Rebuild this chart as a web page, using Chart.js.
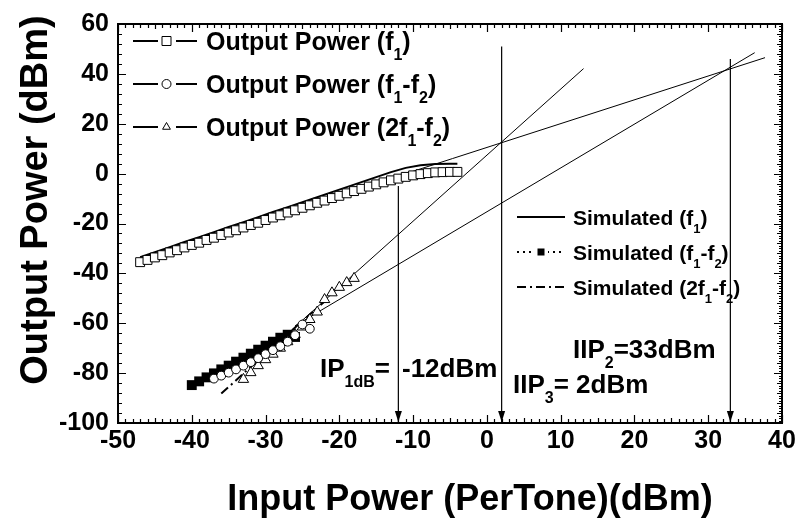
<!DOCTYPE html>
<html>
<head>
<meta charset="utf-8">
<title>Output Power vs Input Power</title>
<script src="https://cdn.jsdelivr.net/npm/chart.js@4.4.1/dist/chart.umd.min.js"></script>
<style>
  html, body { margin: 0; padding: 0; background: #fff; }
  #wrap { width: 799px; height: 521px; }
</style>
</head>
<body>
<div id="wrap"><canvas id="powerChart" width="799" height="521"></canvas></div>
<script>
// Measured output power at the fundamental tone (f1), dBm
const f1InX = [-47, -46, -45, -44, -43, -42, -41, -40, -39, -38, -37, -36, -35, -34, -33, -32, -31, -30, -29, -28, -27, -26,
  -25, -24, -23, -22, -21, -20, -19, -18, -17, -16, -15, -14, -13, -12, -11, -10, -9, -8, -7, -6, -5, -4];
const f1OutY = [-35.5, -34.6, -33.6, -32.7, -31.6, -30.7, -29.6, -28.6, -27.7, -26.6, -25.7, -24.6, -23.6, -22.7, -21.6,
  -20.6, -19.7, -18.6, -17.6, -16.7, -15.6, -14.7, -13.7, -12.7, -11.7, -10.8, -9.8, -8.9, -7.9, -7.0, -6.1, -5.2, -4.3,
  -3.5, -2.7, -2.0, -1.3, -0.7, -0.2, 0.2, 0.5, 0.6, 0.7, 0.7];

// Simulated fundamental
const simF1X = [-47, -45, -43, -41, -39, -37, -35, -33, -31, -29, -27, -25, -23, -21, -19, -17, -15, -13, -11, -9, -7, -5, -4];
const simF1Y = [-33.5, -31.5, -29.5, -27.4, -25.5, -23.5, -21.4, -19.5, -17.5, -15.4, -13.5, -11.5, -9.5, -7.4, -5.4,
  -3.4, -1.4, 0.6, 2.3, 3.4, 3.9, 4.0, 4.0];

// Measured second-order product (f1-f2)
const imd2InX = [-37, -36, -35, -34, -33, -32, -31, -30, -29, -28, -27, -26, -25, -24];
const imd2OutY = [-82.2, -81.0, -79.8, -78.5, -77.0, -75.6, -74.0, -72.4, -70.8, -69.2, -67.4, -64.8, -60.5, -62.2];

// Simulated second-order product
const simImd2X = [-40, -39, -38, -37, -36, -35, -34, -33, -32, -31, -30, -29, -28, -27, -26];
const simImd2Y = [-84.8, -83.3, -81.7, -80.1, -78.5, -77.0, -75.4, -73.8, -72.2, -70.6, -69.0, -67.4, -65.8, -64.6, -65.5];

// Measured third-order product (2f1-f2)
const imd3InX = [-33, -32, -31, -30, -29, -28, -27, -26, -25, -24, -23, -22, -21, -20, -19, -18];
const imd3OutY = [-82.5, -79.8, -77.0, -74.6, -72.4, -70.0, -67.4, -64.5, -61.5, -58.5, -55.5, -50.5, -47.8, -45.6, -43.7, -42.0];

// Simulated third-order product
const simImd3X = [-36, -34, -32, -30, -28, -26, -24, -22];
const simImd3Y = [-88.2, -82.9, -77.4, -72.2, -66.8, -61.7, -56.5, -51.3];

// Extrapolated small-signal lines used to find the intercept points
const fitF1X = [-47, 37.7];
const fitF1Y = [-34.4, 46.5];
const fitImd3X = [-25, 13.1];
const fitImd3Y = [-58.8, 42.1];
const fitImd2X = [-26, 36.3];
const fitImd2Y = [-61, 48.5];

// Drop lines for P1dB, IIP3 and IIP2 (input dBm, top of line in output dBm)
const arrowX = [-12, 2, 33];
const arrowTopY = [-5, 51, 46];

// Axis ranges and tick steps
const xRange = [-50, 40];
const yRange = [-100, 60];
const xStep = 10;
const yStep = 20;

const FONT = '"Liberation Sans", Arial, Helvetica, sans-serif';

function pts(xs, ys) {
  return xs.map((x, i) => ({ x: x, y: ys[i] }));
}

function setFont(ctx, size) {
  ctx.font = 'bold ' + size + 'px ' + FONT;
}

// Draws text pieces left to right, pieces starting with '_' are subscripts
function drawRich(ctx, x, y, parts, size) {
  const subSize = Math.round(size * 0.62);
  let cx = x;
  parts.forEach(p => {
    const sub = p.charAt(0) === '_';
    const text = sub ? p.slice(1) : p;
    setFont(ctx, sub ? subSize : size);
    ctx.fillText(text, cx, sub ? y + Math.round(size * 0.38) : y);
    cx += ctx.measureText(text).width;
  });
  return cx;
}

function drawMarker(ctx, kind, x, y, r, filled) {
  ctx.beginPath();
  if (kind === 'square') {
    ctx.rect(x - r, y - r, 2 * r, 2 * r);
  } else if (kind === 'circle') {
    ctx.arc(x, y, r, 0, Math.PI * 2);
  } else if (kind === 'triangle') {
    ctx.moveTo(x, y - r);
    ctx.lineTo(x + r * 0.87, y + r * 0.5);
    ctx.lineTo(x - r * 0.87, y + r * 0.5);
    ctx.closePath();
  }
  ctx.fillStyle = filled ? '#000' : '#fff';
  ctx.fill();
  ctx.stroke();
}

const measuredKeys = [
  { parts: ['Output Power (f', '_1', ')'], marker: 'square' },
  { parts: ['Output Power (f', '_1', '-f', '_2', ')'], marker: 'circle' },
  { parts: ['Output Power (2f', '_1', '-f', '_2', ')'], marker: 'triangle' }
];

const simulatedKeys = [
  { parts: ['Simulated (f', '_1', ')'], dash: [] },
  { parts: ['Simulated (f', '_1', '-f', '_2', ')'], dash: [2, 4], marker: true },
  { parts: ['Simulated (2f', '_1', '-f', '_2', ')'], dash: [9, 4, 2, 4] }
];

// Box frame with inward tick marks on all four sides
const axisFramePlugin = {
  id: 'axisFrame',
  afterDatasetsDraw(chart) {
    const { ctx, chartArea: a, scales: { x, y } } = chart;
    ctx.save();
    ctx.strokeStyle = '#000';
    ctx.lineWidth = 1.2;
    ctx.beginPath();
    for (let v = x.min; v <= x.max; v++) {
      const px = Math.round(x.getPixelForValue(v)) + 0.5;
      const len = v % 10 === 0 ? 8 : (v % 5 === 0 ? 5 : 4);
      ctx.moveTo(px, a.bottom);
      ctx.lineTo(px, a.bottom - len);
      ctx.moveTo(px, a.top);
      ctx.lineTo(px, a.top + len);
    }
    for (let v = y.min; v <= y.max; v += 4) {
      const py = Math.round(y.getPixelForValue(v)) + 0.5;
      const len = v % 20 === 0 ? 8 : 4;
      ctx.moveTo(a.left, py);
      ctx.lineTo(a.left + len, py);
    }
    for (let v = y.min; v <= y.max; v++) {
      const py = Math.round(y.getPixelForValue(v)) + 0.5;
      const len = v % 20 === 0 ? 8 : (v % 4 === 0 ? 5 : 3);
      ctx.moveTo(a.right, py);
      ctx.lineTo(a.right - len, py);
    }
    ctx.stroke();
    ctx.lineWidth = 2;
    ctx.strokeRect(a.left, a.top, a.right - a.left, a.bottom - a.top);
    ctx.restore();
  }
};

// Arrow heads, legends, intercept labels and axis titles
const notesPlugin = {
  id: 'notes',
  afterDraw(chart) {
    const { ctx, chartArea: a, scales: { x } } = chart;
    ctx.save();
    ctx.fillStyle = '#000';
    ctx.strokeStyle = '#000';

    // arrow heads on the drop lines
    arrowX.forEach(v => {
      const px = x.getPixelForValue(v);
      ctx.beginPath();
      ctx.moveTo(px, a.bottom - 1);
      ctx.lineTo(px - 3.5, a.bottom - 12);
      ctx.lineTo(px + 3.5, a.bottom - 12);
      ctx.closePath();
      ctx.fill();
    });

    // measured legend, top left
    ctx.textAlign = 'left';
    ctx.textBaseline = 'alphabetic';
    measuredKeys.forEach((k, i) => {
      const cy = 41 + i * 43;
      ctx.lineWidth = 2;
      ctx.beginPath();
      ctx.moveTo(133, cy); ctx.lineTo(158, cy);
      ctx.moveTo(176, cy); ctx.lineTo(197, cy);
      ctx.stroke();
      ctx.lineWidth = 1;
      drawMarker(ctx, k.marker, 166.5, cy, 4.5, false);
      ctx.fillStyle = '#000';
      drawRich(ctx, 206, cy + 9, k.parts, 25);
    });

    // simulated legend, right middle
    simulatedKeys.forEach((k, i) => {
      const cy = 217 + i * 35;
      ctx.lineWidth = 2;
      ctx.setLineDash(k.dash);
      ctx.beginPath();
      ctx.moveTo(517, cy); ctx.lineTo(565, cy);
      ctx.stroke();
      ctx.setLineDash([]);
      if (k.marker) {
        ctx.fillStyle = '#fff';
        ctx.fillRect(534, cy - 6, 14, 12);
        ctx.fillStyle = '#000';
        ctx.fillRect(537.5, cy - 3.5, 7, 7);
      }
      ctx.fillStyle = '#000';
      drawRich(ctx, 573, cy + 8, k.parts, 21);
    });

    // intercept and compression labels
    drawRich(ctx, 320, 377, ['IP', '_1dB', '='], 26);
    drawRich(ctx, 402, 377, ['-12dBm'], 26);
    drawRich(ctx, 513, 393, ['IIP', '_3', '= 2dBm'], 26);
    drawRich(ctx, 573, 358, ['IIP', '_2', '=33dBm'], 26);

    // axis titles
    setFont(ctx, 36);
    ctx.textAlign = 'center';
    ctx.fillText('Input Power (PerTone)(dBm)', 470, 510);

    setFont(ctx, 38);
    ctx.save();
    ctx.translate(47, 200);
    ctx.rotate(-Math.PI / 2);
    ctx.fillText('Output Power (dBm)', 0, 0);
    ctx.restore();

    ctx.restore();
  }
};

const thinLine = { showLine: true, pointRadius: 0, borderColor: '#000', borderWidth: 1, fill: false };

const datasets = [
  {
    label: 'Output Power (f1)', data: pts(f1InX, f1OutY),
    pointStyle: 'rect', pointRadius: 6.3, pointBorderWidth: 1,
    pointBorderColor: '#000', pointBackgroundColor: '#fff', showLine: false
  },
  {
    label: 'Output Power (f1-f2)', data: pts(imd2InX, imd2OutY),
    pointStyle: 'circle', pointRadius: 4.4, pointBorderWidth: 1,
    pointBorderColor: '#000', pointBackgroundColor: '#fff', showLine: false
  },
  {
    label: 'Output Power (2f1-f2)', data: pts(imd3InX, imd3OutY),
    pointStyle: 'triangle', pointRadius: 6, pointBorderWidth: 1,
    pointBorderColor: '#000', pointBackgroundColor: '#fff', showLine: false
  },
  {
    label: 'Simulated (f1-f2)', data: pts(simImd2X, simImd2Y),
    pointStyle: 'rect', pointRadius: 7, pointBorderWidth: 0,
    pointBackgroundColor: '#000', showLine: true,
    borderColor: '#000', borderWidth: 1.5, borderDash: [2, 4]
  },
  Object.assign({}, thinLine, { label: 'Simulated (f1)', data: pts(simF1X, simF1Y), borderWidth: 2 }),
  Object.assign({}, thinLine, { label: 'Simulated (2f1-f2)', data: pts(simImd3X, simImd3Y), borderWidth: 2, borderDash: [9, 4, 2, 4] }),
  Object.assign({}, thinLine, { label: 'fit f1', data: pts(fitF1X, fitF1Y) }),
  Object.assign({}, thinLine, { label: 'fit 2f1-f2', data: pts(fitImd3X, fitImd3Y) }),
  Object.assign({}, thinLine, { label: 'fit f1-f2', data: pts(fitImd2X, fitImd2Y) })
];

// vertical drop lines down to the input axis
arrowX.forEach((v, i) => {
  datasets.push(Object.assign({}, thinLine, {
    label: 'drop ' + v,
    data: pts([v, v], [arrowTopY[i], yRange[0]]),
    borderWidth: 1.2
  }));
});

const tickFont = { family: FONT, size: 25, weight: 'bold' };

const ctx = document.getElementById('powerChart').getContext('2d');
new Chart(ctx, {
  type: 'scatter',
  data: { datasets: datasets },
  options: {
    responsive: false,
    animation: false,
    events: [],
    devicePixelRatio: 1,
    layout: { padding: { top: 20, right: 17, left: 0, bottom: 0 } },
    plugins: { legend: { display: false }, tooltip: { enabled: false } },
    scales: {
      x: {
        type: 'linear', min: xRange[0], max: xRange[1],
        ticks: { stepSize: xStep, font: tickFont, color: '#000', padding: 3, maxRotation: 0 },
        grid: { display: false, drawTicks: false },
        border: { display: false },
        afterFit: s => { s.height = 98; }
      },
      y: {
        type: 'linear', min: yRange[0], max: yRange[1],
        ticks: { stepSize: yStep, font: tickFont, color: '#000', padding: 9 },
        grid: { display: false, drawTicks: false },
        border: { display: false },
        afterFit: s => { s.width = 118; }
      }
    }
  },
  plugins: [axisFramePlugin, notesPlugin]
});
</script>
</body>
</html>
